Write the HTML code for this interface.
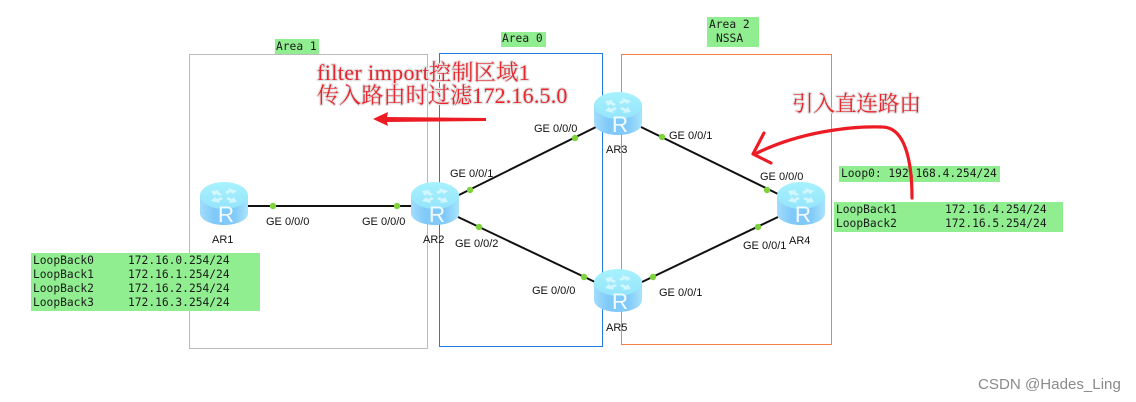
<!DOCTYPE html>
<html>
<head>
<meta charset="utf-8">
<style>
html,body{margin:0;padding:0;background:#fff;width:1136px;height:402px;overflow:hidden}
svg{display:block}
.l{font:11px "Liberation Sans",sans-serif;fill:#111}
.m{font:11.25px "DejaVu Sans Mono",monospace;fill:#1a1a1a;white-space:pre}
.r{font:22.5px "Liberation Sans",sans-serif;fill:#f2fbff;text-anchor:middle}
.h{font-family:"Liberation Serif","Noto Serif CJK SC",serif;font-size:22px;fill:#e8242c;stroke:#e2e2e2;stroke-width:2.5px;paint-order:stroke;stroke-linejoin:round}
.c{stroke:#111;stroke-width:2;fill:none}
.d{fill:#7ed33c}
.g{fill:#90ee90}
</style>
</head>
<body>
<svg width="1136" height="402" viewBox="0 0 1136 402" xmlns="http://www.w3.org/2000/svg">
<defs>
<linearGradient id="b" x1="0" x2="1" y1="0" y2="0">
<stop offset="0" stop-color="#a2dcfc"/><stop offset=".3" stop-color="#80c9f9"/><stop offset=".7" stop-color="#80c9f9"/><stop offset="1" stop-color="#a8e4fc"/>
</linearGradient>
<linearGradient id="t" x1="0" x2="0" y1="0" y2="1">
<stop offset="0" stop-color="#a8f2fe"/><stop offset="1" stop-color="#94e4fb"/>
</linearGradient>
<g id="rt">
<path d="M0 14V31C0 38 11 43 24 43S48 38 48 31V14Z" fill="url(#b)"/>
<ellipse cx="24" cy="13.5" rx="24" ry="13.5" fill="url(#t)"/>
<g fill="#e4fbff" opacity=".75">
<path d="M11 9l8-1-1 2 4 2-2 2-4-2-2 2z"/>
<path d="M37 9l-9-3 1 2-4 2 2 2 4-2 2 2z"/>
<path d="M11 19l9 2-1-2 4-2-2-2-4 2-2-2z"/>
<path d="M37 20l-8 1 1-2-4-2 2-2 4 2 2-2z"/>
</g>
</g>
</defs>

<rect x="189.5" y="54.5" width="238" height="294" fill="none" stroke="#bbb"/>
<rect x="439.5" y="53.5" width="163" height="293" fill="none" stroke="#1e7ee8"/>
<rect x="621.5" y="54.5" width="210" height="290" fill="none" stroke="#f58040"/>

<rect class="g" x="275" y="39" width="44" height="15"/>
<rect class="g" x="501" y="32" width="45" height="15"/>
<rect class="g" x="707" y="17" width="52" height="30"/>
<rect class="g" x="839" y="166" width="161" height="16"/>
<rect class="g" x="834" y="202" width="229" height="30"/>
<rect class="g" x="31" y="253" width="229" height="58"/>

<text class="m" x="276" y="50">Area 1</text>
<text class="m" x="502" y="42">Area 0</text>
<text class="m" x="709" y="28">Area 2</text>
<text class="m" x="716" y="42">NSSA</text>
<text class="m" x="841" y="177">Loop0: 192.168.4.254/24</text>
<text class="m" x="836" y="213">LoopBack1</text><text class="m" x="945" y="213">172.16.4.254/24</text>
<text class="m" x="836" y="227">LoopBack2</text><text class="m" x="945" y="227">172.16.5.254/24</text>
<text class="m" x="33" y="264">LoopBack0</text><text class="m" x="128" y="264">172.16.0.254/24</text>
<text class="m" x="33" y="278">LoopBack1</text><text class="m" x="128" y="278">172.16.1.254/24</text>
<text class="m" x="33" y="292">LoopBack2</text><text class="m" x="128" y="292">172.16.2.254/24</text>
<text class="m" x="33" y="306">LoopBack3</text><text class="m" x="128" y="306">172.16.3.254/24</text>

<line class="c" x1="248" y1="206" x2="411" y2="206"/>
<line class="c" x1="459" y1="195" x2="596" y2="127"/>
<line class="c" x1="641" y1="127" x2="778" y2="194"/>
<line class="c" x1="458" y1="217" x2="595" y2="282"/>
<line class="c" x1="642" y1="282" x2="778" y2="217"/>

<circle class="d" cx="273" cy="206" r="3.2"/>
<circle class="d" cx="397" cy="206" r="3.2"/>
<circle class="d" cx="470" cy="190" r="3.2"/>
<circle class="d" cx="575" cy="138" r="3.2"/>
<circle class="d" cx="662" cy="137" r="3.2"/>
<circle class="d" cx="767" cy="190" r="3.2"/>
<circle class="d" cx="479" cy="227" r="3.2"/>
<circle class="d" cx="584" cy="277" r="3.2"/>
<circle class="d" cx="653" cy="277" r="3.2"/>
<circle class="d" cx="758" cy="227" r="3.2"/>

<use href="#rt" x="200" y="182"/><text class="r" x="226" y="222">R</text>
<use href="#rt" x="411" y="182"/><text class="r" x="437" y="222">R</text>
<use href="#rt" x="594" y="92"/><text class="r" x="620" y="132">R</text>
<use href="#rt" x="777" y="182"/><text class="r" x="803" y="222">R</text>
<use href="#rt" x="594" y="269"/><text class="r" x="620" y="309">R</text>

<text class="l" x="266" y="225">GE 0/0/0</text>
<text class="l" x="362" y="225">GE 0/0/0</text>
<text class="l" x="212" y="243">AR1</text>
<text class="l" x="423" y="243">AR2</text>
<text class="l" x="450" y="177">GE 0/0/1</text>
<text class="l" x="455" y="247">GE 0/0/2</text>
<text class="l" x="534" y="132">GE 0/0/0</text>
<text class="l" x="606" y="153">AR3</text>
<text class="l" x="669" y="139">GE 0/0/1</text>
<text class="l" x="760" y="180">GE 0/0/0</text>
<text class="l" x="743" y="249">GE 0/0/1</text>
<text class="l" x="789" y="244">AR4</text>
<text class="l" x="532" y="294">GE 0/0/0</text>
<text class="l" x="659" y="296">GE 0/0/1</text>
<text class="l" x="606" y="331">AR5</text>

<text class="h" x="317" y="80" letter-spacing=".4">filter import控制区域1</text>
<text class="h" x="317" y="103" letter-spacing=".18">传入路由时过滤172.16.5.0</text>
<text class="h" x="792" y="111" style="font-size:21.5px">引入直连路由</text>

<polygon points="373,119 388,112 387,117 486,118 486,121 387,122 388,126" fill="#ed1c24"/>
<path d="M912 198C912 170 908 127 882 127C850 126 800 132 757 153" fill="none" stroke="#ed1c24" stroke-width="3.2" stroke-linecap="round"/>
<path d="M764 133L753 154L771 163" fill="none" stroke="#ed1c24" stroke-width="3.2" stroke-linecap="round" stroke-linejoin="round"/>

<text x="978" y="389" font-family="Liberation Sans, sans-serif" font-size="15.1" fill="#8a8a8a">CSDN @Hades_Ling</text>
</svg>
</body>
</html>
